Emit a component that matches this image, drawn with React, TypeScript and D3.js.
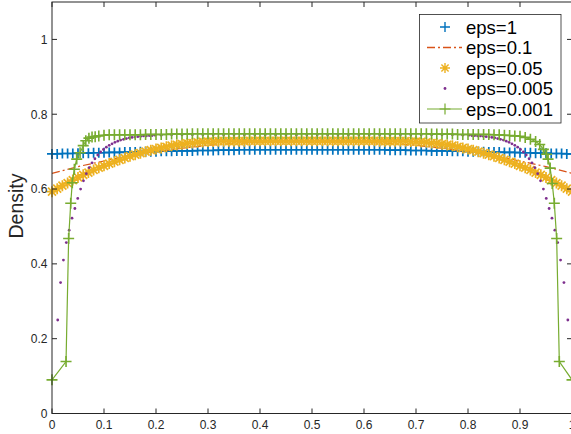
import React from "react";
import * as d3 from "d3";

const xTicks = [0, 0.1, 0.2, 0.3, 0.4, 0.5, 0.6, 0.7, 0.8, 0.9, 1];
const xTickLabels = ["0", "0.1", "0.2", "0.3", "0.4", "0.5", "0.6", "0.7", "0.8", "0.9", "1"];
const yTicks = [0, 0.2, 0.4, 0.6, 0.8, 1];
const yTickLabels = ["0", "0.2", "0.4", "0.6", "0.8", "1"];
const legendLabels = ["eps=1", "eps=0.1", "eps=0.05", "eps=0.005", "eps=0.001"];

// eps=1 and eps=0.05 are sampled every 0.01, eps=0.1 every 0.05
const gridX = d3.range(101).map(i => i / 100);
const coarseX = d3.range(21).map(i => i / 20);

const eps1 = [
  0.694, 0.694, 0.695, 0.695, 0.695, 0.696, 0.696, 0.696, 0.697, 0.697,
  0.697, 0.698, 0.698, 0.698, 0.699, 0.699, 0.699, 0.700, 0.700, 0.700,
  0.700, 0.701, 0.701, 0.701, 0.702, 0.702, 0.702, 0.702, 0.703, 0.703,
  0.703, 0.703, 0.704, 0.704, 0.704, 0.704, 0.705, 0.705, 0.705, 0.705,
  0.705, 0.705, 0.705, 0.705, 0.705, 0.705, 0.705, 0.705, 0.705, 0.705,
  0.705, 0.705, 0.705, 0.705, 0.705, 0.705, 0.705, 0.705, 0.705, 0.705,
  0.705, 0.705, 0.705, 0.705, 0.705, 0.704, 0.704, 0.704, 0.704, 0.703,
  0.703, 0.703, 0.703, 0.702, 0.702, 0.702, 0.702, 0.701, 0.701, 0.701,
  0.700, 0.700, 0.700, 0.700, 0.699, 0.699, 0.699, 0.698, 0.698, 0.698,
  0.697, 0.697, 0.697, 0.696, 0.696, 0.696, 0.695, 0.695, 0.695, 0.694,
  0.694,
];

const eps01 = [
  0.642, 0.660, 0.675, 0.689, 0.700, 0.709, 0.717, 0.722, 0.725, 0.726,
  0.726, 0.726, 0.725, 0.722, 0.717, 0.709, 0.700, 0.689, 0.675, 0.660,
  0.642,
];

const eps005 = [
  0.593, 0.601, 0.609, 0.616, 0.624, 0.631, 0.638, 0.644, 0.651, 0.657,
  0.662, 0.668, 0.673, 0.678, 0.683, 0.688, 0.692, 0.696, 0.700, 0.704,
  0.707, 0.710, 0.713, 0.716, 0.718, 0.720, 0.722, 0.723, 0.725, 0.726,
  0.727, 0.727, 0.728, 0.728, 0.728, 0.728, 0.728, 0.728, 0.729, 0.729,
  0.729, 0.729, 0.729, 0.729, 0.729, 0.729, 0.729, 0.729, 0.729, 0.729,
  0.729, 0.729, 0.729, 0.729, 0.729, 0.729, 0.729, 0.729, 0.729, 0.729,
  0.729, 0.729, 0.729, 0.728, 0.728, 0.728, 0.728, 0.728, 0.728, 0.727,
  0.727, 0.726, 0.725, 0.723, 0.722, 0.720, 0.718, 0.716, 0.713, 0.710,
  0.707, 0.704, 0.700, 0.696, 0.692, 0.688, 0.683, 0.678, 0.673, 0.668,
  0.662, 0.657, 0.651, 0.644, 0.638, 0.631, 0.624, 0.616, 0.609, 0.601,
  0.593,
];

// eps=0.005 and eps=0.001 have their own points [x, density]
const eps0005: [number, number][] = [
  [0.011, 0.250], [0.0165, 0.350], [0.022, 0.410], [0.0275, 0.457], [0.033, 0.490],
  [0.0385, 0.522], [0.044, 0.548], [0.0495, 0.575], [0.055, 0.600], [0.0605, 0.622],
  [0.066, 0.641], [0.0715, 0.657], [0.077, 0.670], [0.0825, 0.681], [0.088, 0.691],
  [0.0935, 0.699], [0.099, 0.706], [0.1045, 0.712], [0.11, 0.717], [0.1155, 0.721],
  [0.121, 0.725], [0.1265, 0.728], [0.132, 0.731], [0.1375, 0.733], [0.143, 0.735],
  [0.1485, 0.737], [0.154, 0.738], [0.1595, 0.739], [0.165, 0.740], [0.1705, 0.741],
  [0.176, 0.742], [0.1815, 0.742], [0.187, 0.743], [0.1925, 0.743], [0.198, 0.744],
  [0.21, 0.744], [0.23, 0.745], [0.25, 0.745], [0.27, 0.745], [0.29, 0.745],
  [0.31, 0.745], [0.33, 0.745], [0.35, 0.745], [0.37, 0.745], [0.39, 0.745],
  [0.41, 0.745], [0.43, 0.745], [0.45, 0.745], [0.47, 0.745], [0.49, 0.745],
  [0.51, 0.745], [0.53, 0.745], [0.55, 0.745], [0.57, 0.745], [0.59, 0.745],
  [0.61, 0.745], [0.63, 0.745], [0.65, 0.745], [0.67, 0.745], [0.69, 0.745],
  [0.71, 0.745], [0.73, 0.745], [0.75, 0.745], [0.77, 0.745], [0.79, 0.744],
  [0.802, 0.744], [0.8075, 0.743], [0.813, 0.743], [0.8185, 0.742], [0.824, 0.742],
  [0.8295, 0.741], [0.835, 0.740], [0.8405, 0.739], [0.846, 0.738], [0.8515, 0.737],
  [0.857, 0.735], [0.8625, 0.733], [0.868, 0.731], [0.8735, 0.728], [0.879, 0.725],
  [0.8845, 0.721], [0.89, 0.717], [0.8955, 0.712], [0.901, 0.706], [0.9065, 0.699],
  [0.912, 0.691], [0.9175, 0.681], [0.923, 0.670], [0.9285, 0.657], [0.934, 0.641],
  [0.9395, 0.622], [0.945, 0.600], [0.9505, 0.575], [0.956, 0.548], [0.9615, 0.522],
  [0.967, 0.490], [0.9725, 0.457], [0.978, 0.410], [0.9845, 0.350], [0.992, 0.250],
];

const eps0001: [number, number][] = [
  [0, 0.090], [0.027, 0.139], [0.032, 0.468], [0.036, 0.562], [0.039, 0.617],
  [0.043, 0.653], [0.0475, 0.680], [0.054, 0.697], [0.06, 0.716], [0.065, 0.729],
  [0.071, 0.736], [0.077, 0.739], [0.083, 0.740], [0.09, 0.742], [0.10, 0.744],
  [0.11, 0.745], [0.12, 0.745], [0.13, 0.745], [0.14, 0.745], [0.15, 0.745],
  [0.16, 0.745], [0.17, 0.745], [0.18, 0.746], [0.19, 0.746], [0.20, 0.746],
  [0.21, 0.746], [0.22, 0.746], [0.23, 0.747], [0.24, 0.747], [0.25, 0.747],
  [0.26, 0.747], [0.27, 0.748], [0.28, 0.748], [0.29, 0.748], [0.30, 0.748],
  [0.31, 0.748], [0.32, 0.748], [0.33, 0.748], [0.34, 0.748], [0.35, 0.748],
  [0.36, 0.748], [0.37, 0.748], [0.38, 0.748], [0.39, 0.748], [0.40, 0.748],
  [0.41, 0.748], [0.42, 0.748], [0.43, 0.748], [0.44, 0.748], [0.45, 0.748],
  [0.46, 0.748], [0.47, 0.748], [0.48, 0.748], [0.49, 0.748], [0.50, 0.748],
  [0.51, 0.748], [0.52, 0.748], [0.53, 0.748], [0.54, 0.748], [0.55, 0.748],
  [0.56, 0.748], [0.57, 0.748], [0.58, 0.748], [0.59, 0.748], [0.60, 0.748],
  [0.61, 0.748], [0.62, 0.748], [0.63, 0.748], [0.64, 0.748], [0.65, 0.748],
  [0.66, 0.748], [0.67, 0.748], [0.68, 0.748], [0.69, 0.748], [0.70, 0.748],
  [0.71, 0.748], [0.72, 0.748], [0.73, 0.747], [0.74, 0.747], [0.75, 0.747],
  [0.76, 0.747], [0.77, 0.747], [0.78, 0.746], [0.79, 0.746], [0.80, 0.746],
  [0.81, 0.746], [0.82, 0.746], [0.83, 0.746], [0.84, 0.746], [0.85, 0.745],
  [0.86, 0.745], [0.87, 0.744], [0.88, 0.743], [0.89, 0.742], [0.90, 0.741],
  [0.91, 0.738], [0.92, 0.733], [0.93, 0.727], [0.938, 0.719], [0.945, 0.706],
  [0.951, 0.693], [0.954, 0.680], [0.958, 0.656], [0.962, 0.615], [0.966, 0.562],
  [0.9705, 0.468], [0.9756, 0.139], [1, 0.090],
];

const colors = ["#0072BD", "#D95319", "#EDB120", "#7E2F8E", "#77AC30"];
const axisColor = "#262626";
const font = "'Liberation Sans', Arial, Helvetica, sans-serif";

const plusPath = (s: number) => `M${-s},0H${s}M0,${-s}V${s}`;
const starPath = (s: number) => {
  const d = s * 0.72;
  return `${plusPath(s)}M${-d},${-d}L${d},${d}M${-d},${d}L${d},${-d}`;
};

const App = () => {
  const ref = React.useRef<SVGSVGElement>(null);
  const width = 571, height = 434;
  const plot = { left: 52, right: 572, top: 2, bottom: 413.5 };

  React.useEffect(() => {
    const svg = d3.select(ref.current);
    svg.selectAll("*").remove();
    const x = d3.scaleLinear([0, 1], [plot.left, plot.right]);
    const y = d3.scaleLinear([0, 1.1], [plot.bottom, plot.top]);

    const g = svg.append("g");

    // eps=1 : plus markers
    g.append("g").selectAll("path").data(gridX.map((v, i) => [v, eps1[i]])).join("path")
      .attr("transform", d => `translate(${x(d[0])},${y(d[1])})`)
      .attr("d", plusPath(5)).attr("stroke", colors[0]).attr("stroke-width", 1.7).attr("fill", "none");

    // eps=0.1 : dash-dot line
    const line = d3.line<number[]>().x(d => x(d[0])).y(d => y(d[1]));
    g.append("path").datum(coarseX.map((v, i) => [v, eps01[i]]))
      .attr("d", line).attr("fill", "none").attr("stroke", colors[1])
      .attr("stroke-width", 1.2).attr("stroke-dasharray", "8,3,2,3");

    // eps=0.05 : star markers
    g.append("g").selectAll("path").data(gridX.map((v, i) => [v, eps005[i]])).join("path")
      .attr("transform", d => `translate(${x(d[0])},${y(d[1])})`)
      .attr("d", starPath(5.5)).attr("stroke", colors[2]).attr("stroke-width", 1.7).attr("fill", "none");

    // eps=0.005 : dots
    g.append("g").selectAll("circle").data(eps0005).join("circle")
      .attr("cx", d => x(d[0])).attr("cy", d => y(d[1])).attr("r", 1.4).attr("fill", colors[3]);

    // eps=0.001 : line with plus markers
    g.append("path").datum(eps0001).attr("d", line).attr("fill", "none")
      .attr("stroke", colors[4]).attr("stroke-width", 1.2);
    g.append("g").selectAll("path").data(eps0001).join("path")
      .attr("transform", d => `translate(${x(d[0])},${y(d[1])})`)
      .attr("d", plusPath(5.5)).attr("stroke", colors[4]).attr("stroke-width", 1.6).attr("fill", "none");

    // axes box and ticks
    const ax = svg.append("g").attr("stroke", axisColor).attr("stroke-width", 1).attr("fill", "none");
    ax.append("rect").attr("x", plot.left).attr("y", plot.top)
      .attr("width", plot.right - plot.left).attr("height", plot.bottom - plot.top);
    xTicks.forEach(t => {
      ax.append("line").attr("x1", x(t)).attr("x2", x(t)).attr("y1", plot.bottom).attr("y2", plot.bottom - 5);
      ax.append("line").attr("x1", x(t)).attr("x2", x(t)).attr("y1", plot.top).attr("y2", plot.top + 5);
    });
    yTicks.forEach(t => {
      ax.append("line").attr("x1", plot.left).attr("x2", plot.left + 5).attr("y1", y(t)).attr("y2", y(t));
      ax.append("line").attr("x1", plot.right).attr("x2", plot.right - 5).attr("y1", y(t)).attr("y2", y(t));
    });

    const labels = svg.append("g").attr("font-family", font).attr("font-size", 12).attr("fill", axisColor);
    xTicks.forEach((t, i) => {
      labels.append("text").attr("x", x(t)).attr("y", 428.5).attr("text-anchor", "middle").text(xTickLabels[i]);
    });
    yTicks.forEach((t, i) => {
      labels.append("text").attr("x", 47.5).attr("y", y(t) + 4.3).attr("text-anchor", "end").text(yTickLabels[i]);
    });
    svg.append("text").attr("transform", "translate(22.5,206) rotate(-90)")
      .attr("text-anchor", "middle").attr("font-family", font).attr("font-size", 19.5)
      .attr("fill", axisColor).text("Density");

    // legend
    const lg = svg.append("g");
    lg.append("rect").attr("x", 419.5).attr("y", 14.5).attr("width", 141.5).attr("height", 108.5)
      .attr("fill", "white").attr("stroke", axisColor).attr("stroke-width", 0.8);
    const rowY = d3.scaleLinear([0, 4], [27, 109]);
    legendLabels.forEach((lab, i) => {
      const cy = rowY(i);
      const row = lg.append("g").attr("transform", `translate(445,${cy})`).attr("fill", "none");
      if (i === 0) row.append("path").attr("d", plusPath(5)).attr("stroke", colors[0]).attr("stroke-width", 1.4);
      if (i === 1) row.append("path").attr("d", "M-18,0H17").attr("stroke", colors[1])
        .attr("stroke-width", 1.4).attr("stroke-dasharray", "8,3,2,3");
      if (i === 2) row.append("path").attr("d", starPath(5)).attr("stroke", colors[2]).attr("stroke-width", 1.4);
      if (i === 3) row.append("circle").attr("r", 1.4).attr("fill", colors[3]);
      if (i === 4) {
        row.append("path").attr("d", "M-18,0H17").attr("stroke", colors[4]).attr("stroke-width", 1.2);
        row.append("path").attr("d", plusPath(5.5)).attr("stroke", colors[4]).attr("stroke-width", 1.2);
      }
      lg.append("text").attr("x", 466).attr("y", cy + 6.5).attr("font-family", font)
        .attr("font-size", 18.5).attr("fill", "black").text(lab);
    });
  }, []);

  return (
    <svg ref={ref} width={width} height={height}
      style={{ position: "absolute", left: 0, top: 0, background: "white" }} />
  );
};

export default App;
